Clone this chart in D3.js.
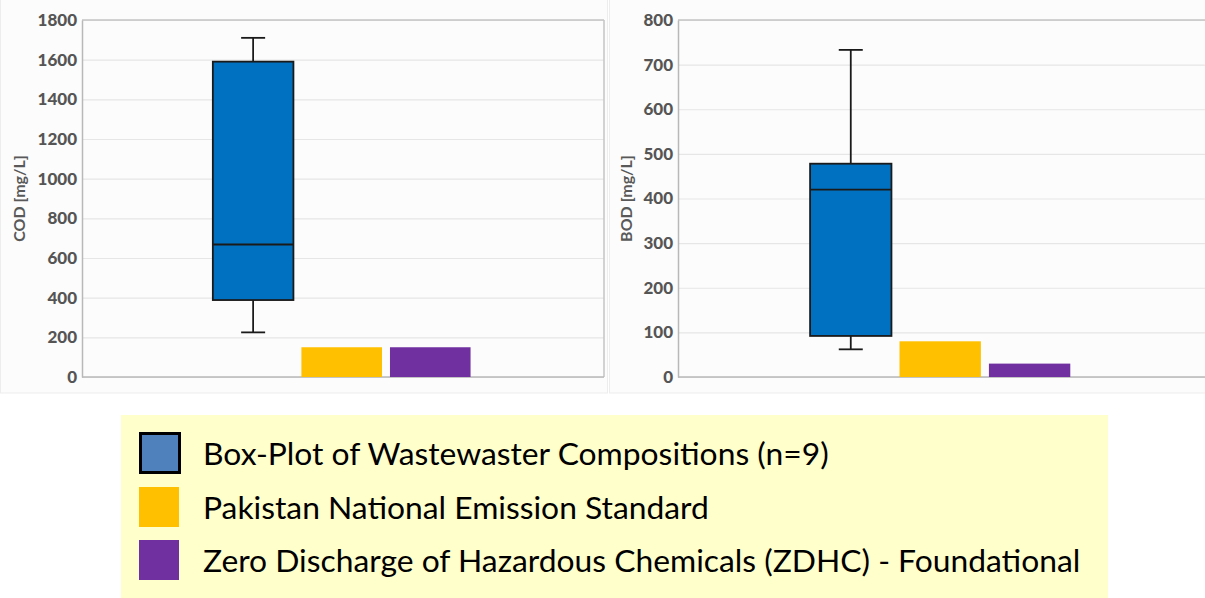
<!DOCTYPE html>
<html>
<head>
<meta charset="utf-8">
<script src="https://cdn.jsdelivr.net/npm/d3@7"></script>
<style>
  html, body { margin: 0; padding: 0; background: #ffffff; }
  svg { display: block; }
</style>
</head>
<body>
<svg id="chart" width="1205" height="598"></svg>
<script>
// Series keys, shared by both panels
const seriesKeys = ["box", "pnes", "zdhc"];
const seriesColors = { box: "#0070C0", pnes: "#FFC000", zdhc: "#7030A0" };

// COD panel
const codTicks = [0, 200, 400, 600, 800, 1000, 1200, 1400, 1600, 1800];
const codBox = { min: 225, q1: 388, median: 668, q3: 1590, max: 1710 };
const codLimits = { pnes: 150, zdhc: 150 };

// BOD panel
const bodTicks = [0, 100, 200, 300, 400, 500, 600, 700, 800];
const bodBox = { min: 62, q1: 92, median: 420, q3: 478, max: 733 };
const bodLimits = { pnes: 80, zdhc: 30 };

// Legend entries
const legendLabels = [
  "Box-Plot of Wastewaster Compositions (n=9)",
  "Pakistan National Emission Standard",
  "Zero Discharge of Hazardous Chemicals (ZDHC) - Foundational"
];

const svg = d3.select("#chart");

function drawPanel(cfg) {
  const g = svg.append("g");
  // panel background
  g.append("rect")
    .attr("x", cfg.panel[0]).attr("y", cfg.panel[1])
    .attr("width", cfg.panel[2]).attr("height", cfg.panel[3])
    .attr("fill", "#FCFCFC").attr("stroke", "#EDEDED").attr("stroke-width", 1);

  const y = d3.scaleLinear().domain([0, d3.max(cfg.ticks)]).range([cfg.bottom, cfg.top]);
  const w = cfg.right - cfg.left;
  const x = d3.scaleBand().domain(seriesKeys)
    .range([cfg.left + w * 0.243, cfg.left + w * 0.752])
    .paddingInner(0.09).paddingOuter(0.045);

  // gridlines
  const grid = d3.axisLeft(y).tickValues(cfg.ticks).tickSize(-w).tickFormat("");
  g.append("g").attr("transform", `translate(${cfg.left},0)`).call(grid)
    .call(s => s.select(".domain").remove())
    .call(s => s.selectAll("line").attr("stroke", "#E6E6E6").attr("stroke-width", 1.2));

  // plot frame
  g.append("line").attr("x1", cfg.left).attr("x2", cfg.right).attr("y1", cfg.top).attr("y2", cfg.top)
    .attr("stroke", "#C4C4C4").attr("stroke-width", 1.5);
  if (cfg.frameRight) {
    g.append("line").attr("x1", cfg.right).attr("x2", cfg.right).attr("y1", cfg.top).attr("y2", cfg.bottom)
      .attr("stroke", "#C4C4C4").attr("stroke-width", 1.5);
  }

  // y axis with labels
  const axis = d3.axisLeft(y).tickValues(cfg.ticks).tickSize(0).tickPadding(5).tickFormat(d3.format("d"));
  g.append("g").attr("transform", `translate(${cfg.left},0)`).call(axis)
    .call(s => s.select(".domain").attr("stroke", "#B8B8B8").attr("stroke-width", 1.5))
    .call(s => s.selectAll("text")
      .attr("fill", "#555555")
      .attr("font-family", "Lato, 'Open Sans', sans-serif")
      .attr("font-weight", 900)
      .attr("font-size", 17));

  // x baseline
  g.append("line").attr("x1", cfg.left).attr("x2", cfg.right).attr("y1", cfg.bottom).attr("y2", cfg.bottom)
    .attr("stroke", "#B8B8B8").attr("stroke-width", 1.5);

  // axis title
  g.append("text")
    .attr("transform", `translate(${cfg.titleX},${(cfg.top + cfg.bottom) / 2}) rotate(-90)`)
    .attr("text-anchor", "middle").attr("dominant-baseline", "middle")
    .attr("fill", "#595959")
    .attr("font-family", "Lato, 'Open Sans', sans-serif")
    .attr("font-weight", "bold")
    .attr("font-size", 16)
    .text(cfg.title);

  // limit bars
  ["pnes", "zdhc"].forEach(k => {
    g.append("rect")
      .attr("x", x(k)).attr("width", x.bandwidth())
      .attr("y", y(cfg.limits[k])).attr("height", y(0) - y(cfg.limits[k]))
      .attr("fill", seriesColors[k]);
  });

  // box plot
  const b = cfg.box;
  const cx = x("box") + x.bandwidth() / 2;
  const cap = 24;
  const bg = g.append("g").attr("stroke", "#1a1a1a").attr("stroke-width", 1.8);
  bg.append("line").attr("x1", cx).attr("x2", cx).attr("y1", y(b.max)).attr("y2", y(b.q3));
  bg.append("line").attr("x1", cx).attr("x2", cx).attr("y1", y(b.q1)).attr("y2", y(b.min));
  bg.append("line").attr("x1", cx - cap / 2).attr("x2", cx + cap / 2).attr("y1", y(b.max)).attr("y2", y(b.max));
  bg.append("line").attr("x1", cx - cap / 2).attr("x2", cx + cap / 2).attr("y1", y(b.min)).attr("y2", y(b.min));
  bg.append("rect")
    .attr("x", x("box")).attr("width", x.bandwidth())
    .attr("y", y(b.q3)).attr("height", y(b.q1) - y(b.q3))
    .attr("fill", seriesColors.box);
  bg.append("line").attr("x1", x("box")).attr("x2", x("box") + x.bandwidth())
    .attr("y1", y(b.median)).attr("y2", y(b.median));
}

drawPanel({
  panel: [0.5, -1, 607, 394], left: 82, right: 604, top: 20, bottom: 377,
  ticks: codTicks, box: codBox, limits: codLimits, title: "COD [mg/L]", titleX: 21, frameRight: true
});
drawPanel({
  panel: [609.5, -1, 600, 394], left: 678, right: 1205, top: 20, bottom: 377,
  ticks: bodTicks, box: bodBox, limits: bodLimits, title: "BOD [mg/L]", titleX: 628, frameRight: false
});

// legend
const lg = svg.append("g");
lg.append("rect").attr("x", 121).attr("y", 415).attr("width", 987).attr("height", 184).attr("fill", "#FFFFCC");
const rowY = [453, 507, 560];
const swatchFill = ["#4F81BD", seriesColors.pnes, seriesColors.zdhc];
legendLabels.forEach((t, i) => {
  if (i === 0) {
    lg.append("rect").attr("x", 140.5).attr("y", rowY[i] - 19.5).attr("width", 39).attr("height", 39)
      .attr("fill", swatchFill[i]).attr("stroke", "#000").attr("stroke-width", 3);
  } else {
    lg.append("rect").attr("x", 139).attr("y", rowY[i] - 20).attr("width", 40).attr("height", 40)
      .attr("fill", swatchFill[i]);
  }
  lg.append("text").attr("x", 203).attr("y", rowY[i])
    .attr("dominant-baseline", "central")
    .attr("fill", "#000")
    .attr("font-family", "Lato, 'Open Sans', sans-serif")
    .attr("font-size", 31.8)
    .text(t);
});
</script>
</body>
</html>
